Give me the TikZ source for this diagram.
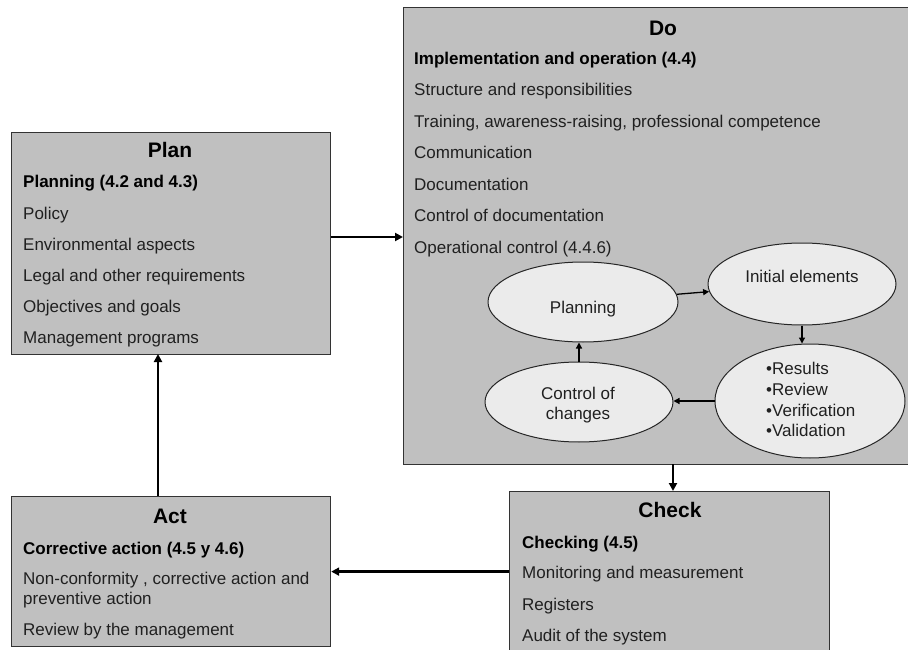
\documentclass[tikz,border=0pt]{standalone}
\usepackage{fontspec}
\setmainfont{Liberation Sans}
\usetikzlibrary{shapes.geometric,arrows.meta}
\definecolor{boxgray}{HTML}{C0C0C0}
\definecolor{ovalgray}{HTML}{EBEBEB}
\definecolor{txtgray}{HTML}{202020}
\begin{document}
\begin{tikzpicture}[x=1pt,y=-1pt,
  pdcabox/.style={draw=black!80, line width=1.2pt, fill=boxgray, inner sep=0pt, anchor=north west},
  oval/.style={ellipse, draw=black!85, line width=1pt, fill=ovalgray, inner sep=0pt},
  boxtitle/.style={anchor=base, inner sep=0pt, font=\fontsize{21}{24}\selectfont\bfseries},
  boxhead/.style={anchor=base west, inner sep=0pt, font=\fontsize{17}{20}\selectfont\bfseries},
  boxitem/.style={anchor=base west, inner sep=0pt, text=txtgray, font=\fontsize{17}{20}\selectfont},
  ovaltext/.style={anchor=base, inner sep=0pt, text=txtgray, font=\fontsize{17}{20}\selectfont},
  bigarr/.style={line width=2.4pt, -{Triangle[length=8pt,width=8pt]}},
  smallarr/.style={line width=1.3pt, -{Triangle[length=6pt,width=6pt]}}
]
\useasboundingbox (0,0) rectangle (908,650);
\fill[white] (0,0) rectangle (908,650);
\clip (0,0) rectangle (908,650);

% boxes
\node[pdcabox, minimum width=319pt, minimum height=222pt] (plan) at (11,132) {};
\node[pdcabox, minimum width=517pt, minimum height=457pt] (do) at (403,7) {};
\node[pdcabox, minimum width=320pt, minimum height=179pt] (check) at (509,491) {};
\node[pdcabox, minimum width=319pt, minimum height=150pt] (act) at (11,496) {};

% Plan text
\node[boxtitle] (tplan) at (170,157.5) {Plan};
\node[boxhead] (p0) at (23,188) {Planning (4.2 and 4.3)};
\node[boxitem] (p1) at (23,219) {Policy};
\node[boxitem] (p2) at (23,250) {Environmental aspects};
\node[boxitem] (p3) at (23,281) {Legal and other requirements};
\node[boxitem] (p4) at (23,312) {Objectives and goals};
\node[boxitem] (p5) at (23,343) {Management programs};

% Do text
\node[boxtitle] (tdo) at (663,35.5) {Do};
\node[boxhead] (d0) at (414,65) {Implementation and operation (4.4)};
\node[boxitem] (d1) at (414,96) {Structure and responsibilities};
\node[boxitem] (d2) at (414,128) {Training, awareness-raising, professional competence};
\node[boxitem] (d3) at (414,159) {Communication};
\node[boxitem] (d4) at (414,190) {Documentation};
\node[boxitem] (d5) at (414,221) {Control of documentation};
\node[boxitem] (d6) at (414,253) {Operational control (4.4.6)};

% Check text
\node[boxtitle] (tcheck) at (670,517.5) {Check};
\node[boxhead] (c0) at (522,548) {Checking (4.5)};
\node[boxitem] (c1) at (522,578) {Monitoring and measurement};
\node[boxitem] (c2) at (522,610) {Registers};
\node[boxitem] (c3) at (522,641) {Audit of the system};

% Act text
\node[boxtitle] (tact) at (170,523.5) {Act};
\node[boxhead] (a0) at (23,554) {Corrective action (4.5 y 4.6)};
\node[boxitem] (a1) at (23,584) {Non-conformity , corrective action and};
\node[boxitem] (a2) at (23,604) {preventive action};
\node[boxitem] (a3) at (23,635) {Review by the management};

% ellipses
\node[oval, minimum width=190pt, minimum height=80pt] (planning) at (583,302) {};
\node[oval, minimum width=188pt, minimum height=82pt] (initial) at (802,284) {};
\node[oval, minimum width=190pt, minimum height=114pt] (results) at (810,401) {};
\node[oval, minimum width=188pt, minimum height=80pt] (control) at (579,402) {};

\node[ovaltext] (tplanning) at (583,313) {Planning};
\node[ovaltext] (tinitial) at (802,282) {Initial elements};
\node[boxitem] (r1) at (766,374) {•Results};
\node[boxitem] (r2) at (766,395) {•Review};
\node[boxitem] (r3) at (766,416) {•Verification};
\node[boxitem] (r4) at (766,436) {•Validation};
\node[ovaltext] (tcontrol1) at (578,399) {Control of};
\node[ovaltext] (tcontrol2) at (578,419) {changes};

% ellipse connectors
\draw[smallarr] (planning) -- (initial);
\draw[smallarr] (initial.south) -- (initial.south |- results.north);
\draw[smallarr] (results.west) -- (results.west -| control.east);
\draw[smallarr] (control.north) -- (control.north |- planning.south);

% main connectors
\draw[bigarr] (plan.east |- 0,237) -- (do.west |- 0,237);
\draw[bigarr] (673,464) -- (673,491);
\draw[bigarr] (check.west |- act.east) -- (act.east);
\draw[bigarr] (158,496) -- (158,354);
\end{tikzpicture}
\end{document}
